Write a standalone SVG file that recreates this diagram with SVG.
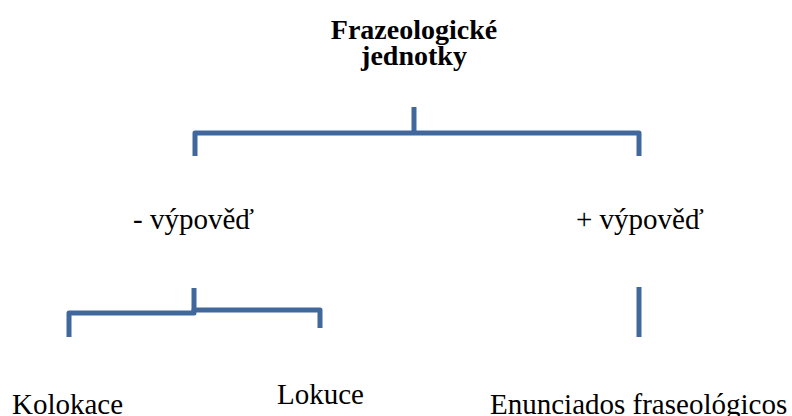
<svg xmlns="http://www.w3.org/2000/svg" width="792" height="416" viewBox="0 0 792 416">
  <style>
    .bracket { fill: none; stroke: #41689D; stroke-width: 5; stroke-linejoin: round; stroke-linecap: butt; }
    .label { font-family: "Liberation Serif", "Times New Roman", serif; font-size: 29px; fill: #000; }
    .title { font-family: "Liberation Serif", "Times New Roman", serif; font-size: 28px; font-weight: bold; fill: #000; text-anchor: middle; }
  </style>
  <rect width="792" height="416" fill="#fff"/>

  <g id="root">
    <text class="title" x="414" y="39">Frazeologické</text>
    <text class="title" x="414" y="65">jednotky</text>
  </g>

  <g id="minus-vypoved">
    <text class="label" x="133" y="229">- výpověď</text>
  </g>

  <g id="plus-vypoved">
    <text class="label" x="576" y="229">+ výpověď</text>
  </g>

  <g id="kolokace">
    <text class="label" x="12" y="414">Kolokace</text>
  </g>

  <g id="lokuce">
    <text class="label" x="277" y="404">Lokuce</text>
  </g>

  <g id="enunciados">
    <text class="label" x="490" y="414">Enunciados fraseológicos</text>
  </g>

  <g id="connectors">
    <!-- top bracket -->
    <path class="bracket" d="M414 107 V133"/>
    <path class="bracket" d="M195 156 V133 H639 V156"/>
    <!-- left sub-bracket -->
    <path class="bracket" d="M194 288 V312"/>
    <path class="bracket" d="M69 337 V313 H194 V310 H320 V328"/>
    <!-- right single stem -->
    <path class="bracket" d="M639 287 V337"/>
  </g>
</svg>
